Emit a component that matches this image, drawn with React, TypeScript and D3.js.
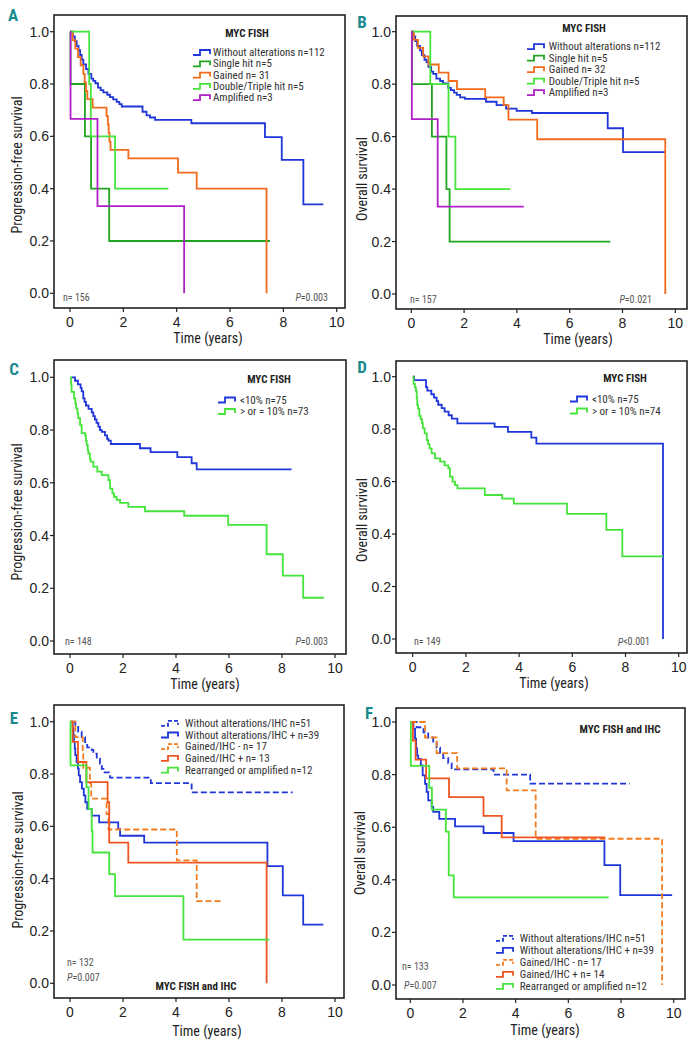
import React from "react";
import * as d3 from "d3";

type Pt = [number, number];

// ---------- Panel A: MYC FISH, progression-free survival ----------
const A_without: Pt[] = [[0.02,1],[0.1,0.982],[0.18,0.964],[0.25,0.946],[0.32,0.929],[0.38,0.911],[0.44,0.893],[0.5,0.875],[0.6,0.857],[0.69,0.839],[0.8,0.821],[0.87,0.812],[0.95,0.803],[1.05,0.786],[1.15,0.777],[1.25,0.768],[1.4,0.759],[1.5,0.75],[1.62,0.741],[1.75,0.732],[1.85,0.723],[1.94,0.714],[2.72,0.694],[2.87,0.68],[3.0,0.672],[3.19,0.663],[4.55,0.65],[7.31,0.597],[7.94,0.51],[8.75,0.34],[9.5,0.34]];
const A_single: Pt[] = [[0,1],[0.02,0.8],[0.56,0.6],[0.79,0.4],[1.47,0.2],[7.5,0.2]];
const A_gained: Pt[] = [[0,1],[0.1,0.968],[0.2,0.935],[0.3,0.903],[0.4,0.871],[0.5,0.839],[0.55,0.806],[0.6,0.774],[0.65,0.742],[0.85,0.71],[1.37,0.677],[1.42,0.645],[1.45,0.613],[1.48,0.58],[1.52,0.548],[2.19,0.516],[4.05,0.461],[4.75,0.4],[7.37,0]];
const A_double: Pt[] = [[0,1],[0.72,0.8],[0.78,0.6],[1.69,0.4],[3.69,0.4]];
const A_amplified: Pt[] = [[0,1],[0.02,0.667],[1.03,0.333],[4.28,0]];

// ---------- Panel B: MYC FISH, overall survival ----------
const B_without: Pt[] = [[0,1],[0.08,0.982],[0.15,0.964],[0.22,0.946],[0.33,0.929],[0.4,0.911],[0.5,0.893],[0.58,0.884],[0.65,0.866],[0.75,0.848],[0.83,0.839],[0.95,0.821],[1.09,0.812],[1.2,0.803],[1.4,0.786],[1.5,0.777],[1.62,0.768],[1.72,0.759],[1.85,0.75],[2.03,0.744],[2.83,0.733],[3.23,0.72],[3.59,0.707],[3.99,0.698],[4.57,0.69],[7.44,0.632],[8.02,0.541],[9.62,0.541]];
const B_single: Pt[] = [[0,1],[0.03,0.8],[0.78,0.6],[1.33,0.4],[1.45,0.2],[7.54,0.2]];
const B_gained: Pt[] = [[0,1],[0.1,0.969],[0.25,0.938],[0.45,0.906],[0.65,0.875],[1.04,0.844],[1.41,0.812],[1.73,0.781],[2.8,0.75],[3.5,0.72],[3.68,0.665],[4.77,0.59],[9.62,0]];
const B_double: Pt[] = [[0,1],[0.72,0.8],[1.41,0.6],[1.67,0.4],[3.75,0.4]];
const B_amplified: Pt[] = [[0,1],[0.02,0.667],[1.0,0.333],[4.26,0.333]];

// ---------- Panel C: <10% vs >=10%, PFS ----------
const C_low: Pt[] = [[0.06,1],[0.19,0.987],[0.3,0.973],[0.4,0.96],[0.44,0.947],[0.5,0.92],[0.55,0.907],[0.6,0.893],[0.7,0.88],[0.82,0.867],[0.88,0.853],[0.94,0.84],[1.0,0.827],[1.07,0.813],[1.13,0.8],[1.2,0.793],[1.32,0.78],[1.4,0.767],[1.45,0.76],[1.54,0.747],[2.64,0.731],[3.04,0.716],[4.05,0.697],[4.59,0.674],[4.78,0.651],[8.36,0.651]];
const C_high: Pt[] = [[0,1],[0.04,0.973],[0.06,0.945],[0.15,0.92],[0.2,0.9],[0.23,0.882],[0.28,0.863],[0.31,0.845],[0.38,0.819],[0.44,0.788],[0.57,0.78],[0.6,0.76],[0.63,0.743],[0.67,0.725],[0.69,0.711],[0.75,0.69],[0.78,0.68],[0.88,0.661],[1.03,0.642],[1.2,0.629],[1.45,0.61],[1.51,0.578],[1.6,0.56],[1.66,0.547],[1.76,0.535],[1.89,0.524],[2.2,0.509],[2.83,0.492],[4.31,0.475],[5.97,0.44],[7.42,0.329],[8.03,0.248],[8.8,0.164],[9.58,0.164]];

// ---------- Panel D: <10% vs >=10%, OS ----------
const D_low: Pt[] = [[0,1],[0.05,0.987],[0.5,0.96],[0.55,0.947],[0.7,0.933],[0.8,0.92],[0.9,0.907],[0.96,0.893],[1.09,0.88],[1.2,0.867],[1.35,0.853],[1.47,0.84],[1.68,0.822],[3.08,0.809],[3.58,0.79],[4.46,0.768],[4.65,0.745],[9.41,0]];
const D_high: Pt[] = [[0,1],[0.03,0.973],[0.08,0.959],[0.12,0.946],[0.15,0.919],[0.17,0.892],[0.2,0.878],[0.25,0.851],[0.3,0.838],[0.35,0.824],[0.38,0.803],[0.45,0.784],[0.53,0.758],[0.58,0.743],[0.63,0.727],[0.71,0.708],[0.84,0.689],[1.03,0.676],[1.2,0.662],[1.34,0.651],[1.4,0.619],[1.5,0.6],[1.59,0.587],[1.68,0.574],[2.71,0.549],[3.36,0.535],[3.8,0.516],[5.8,0.477],[7.28,0.416],[7.88,0.315],[9.41,0.315]];

// ---------- Panel E: FISH and IHC, PFS ----------
const E_withoutNeg: Pt[] = [[0.13,1],[0.2,0.98],[0.31,0.961],[0.44,0.941],[0.57,0.922],[0.65,0.902],[0.82,0.892],[0.88,0.878],[1.01,0.859],[1.13,0.84],[1.2,0.82],[1.26,0.806],[1.51,0.786],[3.05,0.765],[4.59,0.73],[8.4,0.73]];
const E_withoutPos: Pt[] = [[0.04,1],[0.1,0.974],[0.13,0.949],[0.15,0.923],[0.18,0.897],[0.2,0.872],[0.25,0.846],[0.3,0.821],[0.33,0.795],[0.38,0.769],[0.45,0.744],[0.52,0.718],[0.58,0.692],[0.65,0.667],[0.82,0.641],[1.1,0.615],[1.82,0.59],[1.89,0.564],[2.8,0.538],[7.45,0.448],[8.03,0.336],[8.8,0.224],[9.56,0.224]];
const E_gainedNeg: Pt[] = [[0,1],[0.2,0.941],[0.48,0.882],[0.5,0.824],[0.75,0.765],[0.8,0.706],[1.38,0.647],[1.45,0.588],[4.03,0.47],[4.78,0.314],[5.76,0.314]];
const E_gainedPos: Pt[] = [[0,1],[0.1,0.923],[0.3,0.846],[0.62,0.769],[1.42,0.692],[1.48,0.538],[2.2,0.461],[7.42,0]];
const E_rearranged: Pt[] = [[0,1],[0.02,0.833],[0.62,0.75],[0.7,0.667],[0.82,0.583],[0.85,0.5],[1.48,0.417],[1.7,0.333],[4.28,0.167],[7.52,0.167]];

// ---------- Panel F: FISH and IHC, OS ----------
const F_withoutNeg: Pt[] = [[0.05,1],[0.24,0.98],[0.5,0.961],[0.68,0.941],[0.87,0.922],[1.0,0.902],[1.13,0.882],[1.25,0.863],[1.44,0.843],[1.57,0.82],[3.16,0.8],[4.55,0.766],[8.33,0.766]];
const F_withoutPos: Pt[] = [[0.05,1],[0.12,0.974],[0.18,0.937],[0.22,0.9],[0.26,0.872],[0.3,0.86],[0.4,0.835],[0.47,0.797],[0.56,0.765],[0.62,0.734],[0.68,0.702],[0.81,0.677],[0.87,0.658],[1.1,0.632],[1.7,0.603],[2.78,0.578],[3.92,0.547],[7.37,0.456],[7.97,0.342],[9.94,0.342]];
const F_gainedNeg: Pt[] = [[0,1],[0.56,0.941],[1.0,0.882],[1.78,0.824],[3.66,0.74],[4.76,0.556],[9.56,0]];
const F_gainedPos: Pt[] = [[0,1],[0.1,0.929],[0.2,0.857],[0.6,0.786],[1.47,0.714],[2.78,0.643],[3.47,0.561],[7.4,0.561]];
const F_rearranged: Pt[] = [[0,1],[0.02,0.833],[0.72,0.75],[0.82,0.667],[1.35,0.583],[1.46,0.417],[1.65,0.333],[7.53,0.333]];

// ---------- labels ----------
const fishLabelsA = ["Without alterations n=112", "Single hit n=5", "Gained n= 31", "Double/Triple hit n=5", "Amplified n=3"];
const fishLabelsB = ["Without alterations n=112", "Single hit n=5", "Gained n= 32", "Double/Triple hit n=5", "Amplified n=3"];
const pctLabelsC = ["<10% n=75", "> or = 10% n=73"];
const pctLabelsD = ["<10% n=75", "> or = 10% n=74"];
const ihcLabelsE = ["Without alterations/IHC n=51", "Without alterations/IHC + n=39", "Gained/IHC - n= 17", "Gained/IHC + n= 13", "Rearranged or amplified n=12"];
const ihcLabelsF = ["Without alterations/IHC n=51", "Without alterations/IHC + n=39", "Gained/IHC - n= 17", "Gained/IHC + n= 14", "Rearranged or amplified n=12"];
const xTicks = [0, 2, 4, 6, 8, 10];
const yTicks = [0, 0.2, 0.4, 0.6, 0.8, 1.0];

const BLUE = "#1f36d8";
const DGREEN = "#1fa51f";
const ORANGE = "#f26a1b";
const LGREEN = "#45e43a";
const MAGENTA = "#b01fc8";
const ORANGE_D = "#f27c1e";
const ORANGE_S = "#ee5520";
const TEAL = "#1a8a8f";

const NARROW = "'Liberation Sans Narrow', 'Arial Narrow', 'Roboto Condensed', sans-serif";
const SANS = "'Liberation Sans', Arial, sans-serif";

type Series = { data: Pt[]; color: string; dash?: string; label: string };

type PanelCfg = {
  letter: string; letterX: number; letterY: number;
  frame: [number, number, number, number];
  xr: [number, number]; yr: [number, number];
  yTitle: string; yTitleX: number; yTitleY: number;
  xTitleX: number; xTitleY: number;
  series: Series[];
  title?: { text: string; x: number; y: number };
  legend: { symX: number; textX: number; y0: number; dy: number };
  notes: { text: string; x: number; y: number; anchor: "start" | "end"; italicP?: boolean }[];
};

const panels: PanelCfg[] = [
  {
    letter: "A", letterX: 13, letterY: 15, frame: [54, 15, 345, 308], xr: [70, 336.7], yr: [293.3, 31.7],
    yTitle: "Progression-free survival", yTitleX: 17, yTitleY: 165, xTitleX: 208, xTitleY: 343,
    series: [
      { data: A_without, color: BLUE, label: fishLabelsA[0] },
      { data: A_single, color: DGREEN, label: fishLabelsA[1] },
      { data: A_gained, color: ORANGE, label: fishLabelsA[2] },
      { data: A_double, color: LGREEN, label: fishLabelsA[3] },
      { data: A_amplified, color: MAGENTA, label: fishLabelsA[4] },
    ],
    title: { text: "MYC FISH", x: 247, y: 33 },
    legend: { symX: 193, textX: 213, y0: 52.5, dy: 11.3 },
    notes: [
      { text: "n= 156", x: 63, y: 297, anchor: "start" },
      { text: "=0.003", x: 328, y: 297, anchor: "end", italicP: true },
    ],
  },
  {
    letter: "B", letterX: 362, letterY: 22, frame: [396, 16, 687, 309], xr: [411.3, 675.3], yr: [294, 31.7],
    yTitle: "Overall survival", yTitleX: 362, yTitleY: 179, xTitleX: 578, xTitleY: 344,
    series: [
      { data: B_without, color: BLUE, label: fishLabelsB[0] },
      { data: B_single, color: DGREEN, label: fishLabelsB[1] },
      { data: B_gained, color: ORANGE, label: fishLabelsB[2] },
      { data: B_double, color: LGREEN, label: fishLabelsB[3] },
      { data: B_amplified, color: MAGENTA, label: fishLabelsB[4] },
    ],
    title: { text: "MYC FISH", x: 584, y: 28.5 },
    legend: { symX: 527, textX: 548.7, y0: 46.7, dy: 11.5 },
    notes: [
      { text: "n= 157", x: 410, y: 299, anchor: "start" },
      { text: "=0.021", x: 652, y: 299, anchor: "end", italicP: true },
    ],
  },
  {
    letter: "C", letterX: 14, letterY: 369, frame: [54, 360, 346, 654], xr: [70, 335], yr: [641, 377.3],
    yTitle: "Progression-free survival", yTitleX: 17, yTitleY: 512, xTitleX: 205, xTitleY: 689,
    series: [
      { data: C_low, color: BLUE, label: pctLabelsC[0] },
      { data: C_high, color: LGREEN, label: pctLabelsC[1] },
    ],
    title: { text: "MYC FISH", x: 269, y: 379.3 },
    legend: { symX: 218, textX: 240, y0: 400, dy: 11.5 },
    notes: [
      { text: "n= 148", x: 65, y: 641, anchor: "start" },
      { text: "=0.003", x: 328, y: 641, anchor: "end", italicP: true },
    ],
  },
  {
    letter: "D", letterX: 362, letterY: 367, frame: [396, 361, 687, 653], xr: [412.7, 678.7], yr: [639, 376.7],
    yTitle: "Overall survival", yTitleX: 362, yTitleY: 520, xTitleX: 554, xTitleY: 688,
    series: [
      { data: D_low, color: BLUE, label: pctLabelsD[0] },
      { data: D_high, color: LGREEN, label: pctLabelsD[1] },
    ],
    title: { text: "MYC FISH", x: 625, y: 378.3 },
    legend: { symX: 570, textX: 592, y0: 399, dy: 12 },
    notes: [
      { text: "n= 149", x: 414, y: 641.7, anchor: "start" },
      { text: "<0.001", x: 650, y: 641.7, anchor: "end", italicP: true },
    ],
  },
  {
    letter: "E", letterX: 14, letterY: 718, frame: [54, 705, 344, 998], xr: [70, 335], yr: [983.3, 721.7],
    yTitle: "Progression-free survival", yTitleX: 18, yTitleY: 860, xTitleX: 207, xTitleY: 1036,
    series: [
      { data: E_withoutNeg, color: BLUE, dash: "6,3", label: ihcLabelsE[0] },
      { data: E_withoutPos, color: BLUE, label: ihcLabelsE[1] },
      { data: E_gainedNeg, color: ORANGE_D, dash: "6,3", label: ihcLabelsE[2] },
      { data: E_gainedPos, color: ORANGE_S, label: ihcLabelsE[3] },
      { data: E_rearranged, color: LGREEN, label: ihcLabelsE[4] },
    ],
    title: { text: "MYC FISH and IHC", x: 196, y: 986.7 },
    legend: { symX: 161, textX: 185, y0: 723.3, dy: 11.7 },
    notes: [
      { text: "n= 132", x: 67, y: 962, anchor: "start" },
      { text: "=0.007", x: 67, y: 977, anchor: "start", italicP: true },
    ],
  },
  {
    letter: "F", letterX: 369, letterY: 713, frame: [396, 708, 685, 999], xr: [410.3, 673.7], yr: [985, 722],
    yTitle: "Overall survival", yTitleX: 360, yTitleY: 853, xTitleX: 545, xTitleY: 1035,
    series: [
      { data: F_withoutNeg, color: BLUE, dash: "6,3", label: ihcLabelsF[0] },
      { data: F_withoutPos, color: BLUE, label: ihcLabelsF[1] },
      { data: F_gainedNeg, color: ORANGE_D, dash: "6,3", label: ihcLabelsF[2] },
      { data: F_gainedPos, color: ORANGE_S, label: ihcLabelsF[3] },
      { data: F_rearranged, color: LGREEN, label: ihcLabelsF[4] },
    ],
    title: { text: "MYC FISH and IHC", x: 620, y: 729.3 },
    legend: { symX: 496, textX: 519.7, y0: 938.3, dy: 12 },
    notes: [
      { text: "n= 133", x: 402, y: 966, anchor: "start" },
      { text: "=0.007", x: 404, y: 985, anchor: "start", italicP: true },
    ],
  },
];

function Panel({ p }: { p: PanelCfg }) {
  const x = d3.scaleLinear().domain([0, 10]).range(p.xr);
  const y = d3.scaleLinear().domain([0, 1]).range(p.yr);
  const line = d3.line<Pt>().x((d) => x(d[0])).y((d) => y(d[1])).curve(d3.curveStepAfter);
  const [fl, ft, fr, fb] = p.frame;
  return (
    <g>
      <text x={p.letterX} y={p.letterY} fill={TEAL} fontFamily={NARROW} fontWeight="bold" fontSize={17} textAnchor="middle" dominantBaseline="central">{p.letter}</text>
      <rect x={fl} y={ft} width={fr - fl} height={fb - ft} fill="none" stroke="#222" strokeWidth={1.6} />
      {yTicks.map((t) => (
        <g key={"y" + t}>
          <line x1={fl - 4} x2={fl} y1={y(t)} y2={y(t)} stroke="#222" strokeWidth={1.2} />
          <text x={fl - 5} y={y(t)} textAnchor="end" dominantBaseline="central" fontFamily={SANS} fontSize={14} fill="#222">{d3.format(".1f")(t)}</text>
        </g>
      ))}
      {xTicks.map((t) => (
        <g key={"x" + t}>
          <line x1={x(t)} x2={x(t)} y1={fb} y2={fb + 4} stroke="#222" strokeWidth={1.2} />
          <text x={x(t)} y={fb + 19} textAnchor="middle" fontFamily={SANS} fontSize={14} fill="#222">{t}</text>
        </g>
      ))}
      <text x={p.xTitleX} y={p.xTitleY} textAnchor="middle" fontFamily={NARROW} fontSize={14} fill="#222">Time (years)</text>
      <text transform={`translate(${p.yTitleX},${p.yTitleY}) rotate(-90)`} textAnchor="middle" dominantBaseline="central" fontFamily={NARROW} fontSize={14} fill="#222">{p.yTitle}</text>
      {p.series.map((s, i) => (
        <path key={"s" + i} d={line(s.data) || ""} fill="none" stroke={s.color} strokeWidth={1.8} strokeDasharray={s.dash} />
      ))}
      {p.title && (
        <text x={p.title.x} y={p.title.y} textAnchor="middle" dominantBaseline="central" fontFamily={NARROW} fontWeight="bold" fontSize={11} fill="#222">{p.title.text}</text>
      )}
      {p.series.map((s, i) => {
        const cy = p.legend.y0 + i * p.legend.dy;
        const sx = p.legend.symX;
        return (
          <g key={"l" + i}>
            <path d={`M${sx},${cy + 2.5} H${sx + 7} V${cy - 2.5} H${sx + 17} V${cy + 1.5}`} fill="none" stroke={s.color} strokeWidth={1.8} strokeDasharray={s.dash ? "4,2" : undefined} />
            <text x={p.legend.textX} y={cy} dominantBaseline="central" fontFamily={NARROW} fontSize={11} fill="#333">{s.label}</text>
          </g>
        );
      })}
      {p.notes.map((n, i) => (
        <text key={"n" + i} x={n.x} y={n.y} textAnchor={n.anchor} dominantBaseline="central" fontFamily={NARROW} fontSize={10} fill="#555">
          {n.italicP && <tspan fontStyle="italic">P</tspan>}
          {n.text}
        </text>
      ))}
    </g>
  );
}

export default function App() {
  return (
    <svg width={694} height={1044} style={{ position: "absolute", left: 0, top: 0, background: "#fff" }}>
      <rect x={0} y={0} width={694} height={1044} fill="#fff" />
      {panels.map((p) => (
        <Panel key={p.letter} p={p} />
      ))}
    </svg>
  );
}
